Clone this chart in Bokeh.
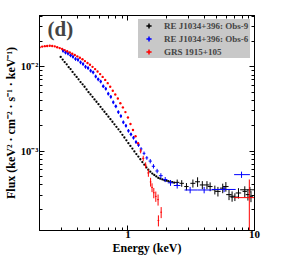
import numpy as np
from bokeh.plotting import figure
from bokeh.models import Range1d, FixedTicker, LogAxis, Legend, LegendItem, Label
from bokeh.embed import file_html
from bokeh.resources import INLINE

# ---------------- data ----------------
x_ticks = [1, 10]
x_minor = [0.2, 0.3, 0.4, 0.5, 0.6, 0.7, 0.8, 0.9, 2, 3, 4, 5, 6, 7, 8, 9]
x_tick_labels = {1: "1", 10: "10"}
y_ticks = [0.001, 0.01]
y_minor = [2e-4, 3e-4, 4e-4, 5e-4, 6e-4, 7e-4, 8e-4, 9e-4,
           2e-3, 3e-3, 4e-3, 5e-3, 6e-3, 7e-3, 8e-3, 9e-3, 2e-2, 3e-2, 4e-2]
y_tick_labels = {0.001: "10⁻³", 0.01: "10⁻²"}

series_names = ["RE J1034+396: Obs-9", "RE J1034+396: Obs-6", "GRS 1915+105"]

# GRS 1915+105 (red): dense dots
red_dot_E = [0.200, 0.210, 0.220, 0.230, 0.241, 0.252, 0.264, 0.276, 0.289, 0.302,
             0.316, 0.331, 0.347, 0.363, 0.380, 0.398, 0.417, 0.437, 0.457, 0.479,
             0.501, 0.525, 0.550, 0.575, 0.603, 0.631, 0.661, 0.692, 0.724, 0.759,
             0.794, 0.832, 0.871, 0.912, 0.955, 1.000, 1.047, 1.096, 1.148, 1.202]
red_dot_F = [0.0171, 0.0174, 0.0176, 0.0177, 0.0178, 0.0177, 0.0175, 0.0171, 0.0167, 0.0163,
             0.0158, 0.0153, 0.0148, 0.0143, 0.0138, 0.0133, 0.0128, 0.0123, 0.0117, 0.0111,
             0.0106, 0.0100, 0.0094, 0.0088, 0.0082, 0.0076, 0.0070, 0.0064, 0.0058, 0.0052,
             0.0047, 0.0042, 0.0037, 0.0033, 0.0029, 0.00250, 0.00210, 0.00178, 0.00150, 0.00124]
# red crosses
red_pt_E = [1.26, 1.32, 1.38, 1.45, 1.51, 1.55, 1.60, 1.66, 1.73, 1.83, 1.74]
red_pt_F = [0.00100, 0.00082, 0.00068, 0.00055, 0.00043, 0.00037, 0.00032, 0.00029,
            0.000265, 0.000188, 0.000150]
red_pt_dE = [0.02, 0.02, 0.02, 0.02, 0.015, 0.015, 0.015, 0.015, 0.015, 0.015, 0.015]
red_pt_dF = [0.06, 0.07, 0.08, 0.10, 0.12, 0.12, 0.14, 0.14, 0.15, 0.15, 0.15]
# red wide bin
red_bin_E = [9.1]
red_bin_Elo = [6.9]
red_bin_Ehi = [11.0]
red_bin_F = [0.000280]
red_bin_Flo = [0.00001]
red_bin_Fhi = [0.000460]

# RE J1034+396 Obs-6 (blue): dense points
blue_dot_E = [0.307, 0.321, 0.336, 0.352, 0.368, 0.385, 0.403, 0.422, 0.442, 0.462,
              0.484, 0.507, 0.531, 0.556, 0.582, 0.609, 0.638, 0.668, 0.699, 0.732,
              0.766, 0.802, 0.840, 0.879, 0.920, 0.964, 1.009, 1.056, 1.106, 1.158, 1.212]
blue_dot_F = [0.0155, 0.0148, 0.0144, 0.0137, 0.0132, 0.0124, 0.0121, 0.0113, 0.0108, 0.0100,
              0.0097, 0.0090, 0.0086, 0.0077, 0.0071, 0.0067, 0.0059, 0.0055, 0.0048, 0.0044,
              0.0038, 0.0034, 0.0029, 0.0026, 0.0022, 0.0020, 0.00174, 0.00158, 0.00144,
              0.00128, 0.00118]
blue_pt_E = [1.27, 1.34, 1.41, 1.50, 1.59, 1.70, 1.82, 1.97, 2.17, 2.45]
blue_pt_F = [0.00106, 0.00094, 0.00083, 0.00076, 0.00066, 0.00058, 0.00051, 0.00046,
             0.00042, 0.00039]
blue_pt_dE = [0.025, 0.025, 0.025, 0.03, 0.03, 0.03, 0.035, 0.04, 0.05, 0.06]
blue_pt_dF = [0.05, 0.05, 0.05, 0.06, 0.06, 0.06, 0.07, 0.07, 0.08, 0.08]
blue_bin_E = [3.10, 4.00, 5.75, 7.90]
blue_bin_Elo = [2.80, 3.55, 4.60, 6.90]
blue_bin_Ehi = [3.55, 4.60, 7.10, 9.20]
blue_bin_F = [0.000345, 0.000345, 0.000350, 0.000525]
blue_bin_Flo = [0.000315, 0.000315, 0.000325, 0.000480]
blue_bin_Fhi = [0.000375, 0.000375, 0.000375, 0.000570]

# RE J1034+396 Obs-9 (black): dense dots
black_dot_E = [0.294, 0.305, 0.316, 0.328, 0.340, 0.352, 0.365, 0.379, 0.393, 0.407,
               0.422, 0.438, 0.454, 0.471, 0.488, 0.506, 0.525, 0.544, 0.564, 0.585,
               0.607, 0.629, 0.652, 0.676, 0.701, 0.727, 0.754, 0.782, 0.811, 0.841,
               0.872, 0.904, 0.937, 0.972, 1.008, 1.045, 1.084, 1.124, 1.165, 1.208,
               1.253, 1.299, 1.347, 1.397, 1.448, 1.502, 1.557, 1.615, 1.675, 1.737,
               1.80, 1.87, 1.94, 2.01, 2.08, 2.16, 2.24, 2.32]
black_dot_F = [0.0131, 0.0122, 0.0114, 0.0107, 0.0099, 0.0094, 0.0087, 0.0081, 0.0076, 0.0071,
               0.0066, 0.0062, 0.0058, 0.0054, 0.0050, 0.0047, 0.0044, 0.0041, 0.00385, 0.0036,
               0.00335, 0.00313, 0.00293, 0.00274, 0.00256, 0.00239, 0.00223, 0.00208, 0.00194,
               0.00181, 0.00169, 0.00156, 0.00145, 0.00134, 0.00124, 0.00115, 0.00107, 0.00099,
               0.00092, 0.00086, 0.00080, 0.00074, 0.00069, 0.00064, 0.00060, 0.00057, 0.00054,
               0.00052, 0.00050, 0.00048, 0.000470, 0.000460, 0.000450, 0.000445, 0.000440,
               0.000432, 0.000428, 0.000422]
black_pt_E = [2.45, 2.66, 2.90, 3.26, 3.55, 3.87, 4.21, 4.46, 4.86, 5.14, 5.61, 5.94,
              6.29, 6.65, 7.47, 8.38, 8.87, 9.38]
black_pt_F = [0.000425, 0.000414, 0.000379, 0.000414, 0.000432, 0.000396, 0.000396, 0.000379,
              0.000347, 0.000332, 0.000363, 0.000379, 0.000304, 0.000291, 0.000318, 0.000332,
              0.000304, 0.000291]
black_pt_dE = [0.04, 0.04, 0.04, 0.045, 0.045, 0.045, 0.045, 0.045, 0.05, 0.05, 0.05, 0.05,
               0.05, 0.05, 0.05, 0.04, 0.04, 0.04]
black_pt_dF = [0.08, 0.09, 0.10, 0.11, 0.13, 0.11, 0.11, 0.12, 0.12, 0.13, 0.13, 0.13,
               0.14, 0.14, 0.14, 0.15, 0.15, 0.15]
black_bin_E = [7.00, 9.20]
black_bin_Elo = [6.46, 7.70]
black_bin_Ehi = [7.50, 11.0]
black_bin_F = [0.000284, 0.000347]
black_bin_Flo = [0.000255, 0.000320]
black_bin_Fhi = [0.000315, 0.000375]

colors = ["#000000", "#0000ff", "#ff0000"]
FONT = "Liberation Serif"

# ---------------- figure ----------------
p = figure(width=276, height=257, x_axis_type="log", y_axis_type="log",
           x_range=Range1d(0.2, 10), y_range=Range1d(1.14e-4, 0.0407),
           output_backend="svg", toolbar_location=None,
           min_border_left=26, min_border_right=22, min_border_top=15, min_border_bottom=22)
p.grid.visible = False
p.outline_line_color = "black"
p.outline_line_width = 1
p.background_fill_color = "white"
p.border_fill_color = "white"

xt = FixedTicker(ticks=x_ticks, minor_ticks=x_minor)
yt = FixedTicker(ticks=y_ticks, minor_ticks=y_minor)


def style_axis(ax, show_labels, size):
    ax.axis_line_color = "black"
    ax.major_tick_in = 5
    ax.major_tick_out = 0
    ax.minor_tick_in = 3
    ax.minor_tick_out = 0
    ax.major_tick_line_color = "black"
    ax.minor_tick_line_color = "black"
    ax.major_label_text_font = FONT
    ax.major_label_text_font_style = "bold"
    ax.major_label_text_color = "black"
    ax.axis_label_text_font = FONT
    ax.axis_label_text_font_style = "bold"
    ax.axis_label_text_color = "black"
    if show_labels:
        ax.major_label_text_font_size = size
    else:
        ax.major_label_text_font_size = "0px"
        ax.major_label_standoff = 0


p.xaxis.ticker = xt
p.yaxis.ticker = yt
p.xaxis.major_label_overrides = x_tick_labels
p.yaxis.major_label_overrides = y_tick_labels
style_axis(p.xaxis[0], True, "11px")
style_axis(p.yaxis[0], True, "10.5px")
p.xaxis.major_label_standoff = 0
p.yaxis.major_label_standoff = 1
p.xaxis.axis_label = "Energy (keV)"
p.xaxis.axis_label_text_font_size = "12px"
p.xaxis.axis_label_standoff = 0
p.yaxis.axis_label = "Flux (keV² · cm⁻² · s⁻¹ · keV⁻¹)"
p.yaxis.axis_label_text_font_size = "12px"
p.yaxis.axis_label_standoff = 0

top_ax = LogAxis(ticker=xt, major_label_overrides={1: "", 10: ""})
style_axis(top_ax, False, None)
p.add_layout(top_ax, "above")
right_ax = LogAxis(ticker=yt, major_label_overrides={0.001: "", 0.01: ""})
style_axis(right_ax, False, None)
p.add_layout(right_ax, "right")


def bars(E, Elo, Ehi, F, Flo, Fhi, color):
    p.segment(x0=Elo, y0=F, x1=Ehi, y1=F, line_color=color, line_width=1)
    p.segment(x0=E, y0=Flo, x1=E, y1=Fhi, line_color=color, line_width=1)


def rel_bars(E, F, dE, dF, color):
    E = np.array(E); F = np.array(F); dE = np.array(dE); dF = np.array(dF)
    bars(E, E * (1 - dE), E * (1 + dE), F, F * (1 - dF), F * (1 + dF), color)


# black
p.scatter(black_dot_E, black_dot_F, marker="circle", size=2.3, color=colors[0], line_width=0)
rel_bars(black_pt_E, black_pt_F, black_pt_dE, black_pt_dF, colors[0])
bars(black_bin_E, black_bin_Elo, black_bin_Ehi, black_bin_F, black_bin_Flo, black_bin_Fhi, colors[0])

# blue
rel_bars(blue_dot_E, blue_dot_F, [0.012] * len(blue_dot_E), [0.05] * len(blue_dot_E), colors[1])
p.scatter(blue_dot_E, blue_dot_F, marker="circle", size=2.5, color=colors[1], line_width=0)
rel_bars(blue_pt_E, blue_pt_F, blue_pt_dE, blue_pt_dF, colors[1])
bars(blue_bin_E, blue_bin_Elo, blue_bin_Ehi, blue_bin_F, blue_bin_Flo, blue_bin_Fhi, colors[1])

# red
p.scatter(red_dot_E, red_dot_F, marker="circle", size=2.4, color=colors[2], line_width=0)
rel_bars(red_pt_E, red_pt_F, red_pt_dE, red_pt_dF, colors[2])
bars(red_bin_E, red_bin_Elo, red_bin_Ehi, red_bin_F, red_bin_Flo, red_bin_Fhi, colors[2])

# legend (cross markers placed outside the visible range)
items = []
for name, c in zip(series_names, colors):
    r = p.scatter([0.01], [1.0], marker="cross", size=10, line_color=c, line_width=1.5)
    items.append(LegendItem(label=name, renderers=[r]))
legend = Legend(items=items, location="top_right", margin=4, padding=2, spacing=0,
                glyph_width=21, glyph_height=13, label_height=13, label_width=86,
                label_standoff=5,
                label_text_font=FONT, label_text_font_style="bold", label_text_font_size="9px",
                background_fill_color="#c8c8c8", background_fill_alpha=1.0,
                border_line_color=None)
p.add_layout(legend)

# panel letter
p.add_layout(Label(x=8, y=202, x_units="screen", y_units="screen", text="(d)",
                   text_font=FONT, text_font_style="bold", text_font_size="21px",
                   text_baseline="middle", text_align="left"))

open("out.html", "w").write(file_html(p, INLINE))
